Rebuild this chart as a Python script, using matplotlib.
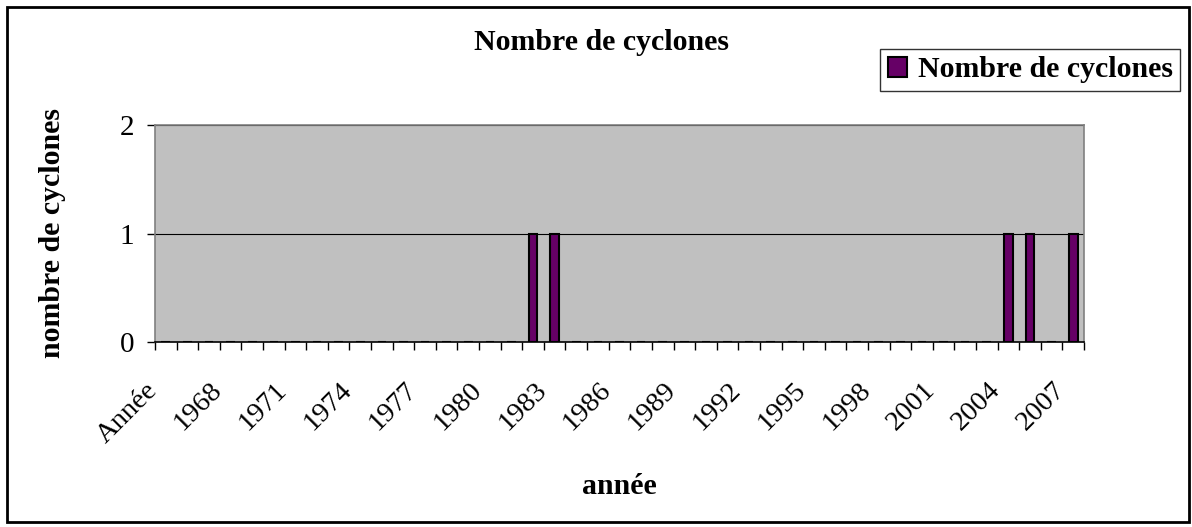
import numpy as np
import matplotlib
matplotlib.use("Agg")
import matplotlib.pyplot as plt
from matplotlib.patches import Rectangle
from matplotlib.transforms import ScaledTranslation

plt.rcParams['font.family'] = ['Liberation Serif', 'DejaVu Serif']

# categories (first one is the column header kept by the spreadsheet)
categories = ["Année"] + [str(y) for y in range(1966, 2008)]
# number of cyclones per year
cyclones = [0,
            0, 0, 0, 0, 0, 0, 0, 0, 0, 0,   # 1966-1975
            0, 0, 0, 0, 0, 0, 1, 1, 0, 0,   # 1976-1985
            0, 0, 0, 0, 0, 0, 0, 0, 0, 0,   # 1986-1995
            0, 0, 0, 0, 0, 0, 0, 0, 1, 1,   # 1996-2005
            0, 1]                           # 2006-2007
yticks = [0, 1, 2]

W, H = 1192, 527
fig = plt.figure(figsize=(W / 100, H / 100), dpi=100)
ax = fig.add_axes([155 / W, 1 - 342 / H, 929 / W, 217 / H])
ax.set_facecolor('#C0C0C0')

x = np.arange(len(categories))
bars = ax.bar(x, cyclones, width=0.4, color='#660066', edgecolor='black',
              linewidth=1.5, label='Nombre de cyclones', zorder=3)

ax.set_xlim(-0.5, len(categories) - 0.5)
ax.set_ylim(0, 2)

# gridlines
for v in yticks[1:]:
    ax.axhline(v, color='black', linewidth=0.8, zorder=2)

# spines
for s in ['top', 'right', 'left']:
    ax.spines[s].set_color('#808080')
    ax.spines[s].set_linewidth(1.2)
ax.spines['bottom'].set_color('black')
ax.spines['bottom'].set_linewidth(1.2)
ax.spines['bottom'].set_zorder(4)

# y axis
ax.set_yticks(yticks)
ax.set_yticklabels([str(v) for v in yticks], fontsize=21)
ax.tick_params(axis='y', direction='out', length=6, width=1, color='black', pad=9)

# x axis: tick marks between categories, labels every 3rd category
ax.set_xticks(np.arange(-0.5, len(categories), 1.0), minor=True)
ax.set_xticks(x[::3])
ax.set_xticklabels(categories[::3], fontsize=20.5, rotation=45, ha='right',
                   va='center', rotation_mode='anchor')
ax.tick_params(axis='x', which='major', length=0, pad=32)
ax.tick_params(axis='x', which='minor', direction='out', length=6, width=1, color='black')
shift = ScaledTranslation(-12 / 100, 0, fig.dpi_scale_trans)
for lab in ax.get_xticklabels():
    lab.set_transform(lab.get_transform() + shift)

ax.set_xlabel('année', fontsize=21.5, fontweight='bold', va='center')
ax.xaxis.set_label_coords(0.5, (342 - 487) / 217)
ax.set_ylabel('nombre de cyclones', fontsize=21.5, fontweight='bold', va='center')
ax.yaxis.set_label_coords((53 - 155) / 929, 0.5)

fig.text(601 / W, 1 - 43 / H, 'Nombre de cyclones', fontsize=21.5, fontweight='bold',
         ha='center', va='center')

leg = fig.legend(handles=[bars], loc='upper right', bbox_to_anchor=(1180 / W, 1 - 49 / H),
                 prop={'weight': 'bold', 'size': 21.5}, frameon=True, fancybox=False,
                 handlelength=0.65, handleheight=0.65, handletextpad=0.35,
                 borderpad=0.25, borderaxespad=0)
leg.get_frame().set_edgecolor('black')
leg.get_frame().set_linewidth(1)

# chart border
fig.patches.append(Rectangle((7 / W, 5 / H), 1182 / W, 515 / H, transform=fig.transFigure,
                             fill=False, edgecolor='black', linewidth=2))

fig.savefig('out.png', dpi=100)
